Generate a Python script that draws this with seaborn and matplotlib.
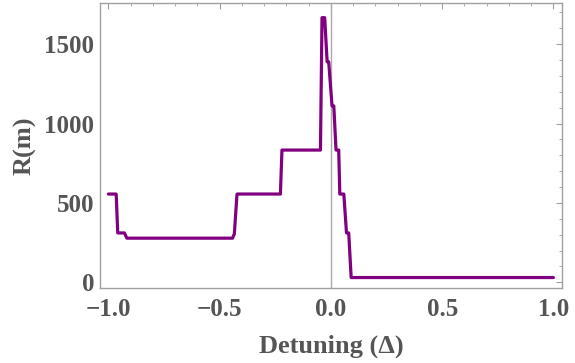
import matplotlib
matplotlib.use("Agg")
import matplotlib.pyplot as plt
from matplotlib.ticker import MultipleLocator, FuncFormatter
import seaborn as sns
import pandas as pd

# Sampled range R(m) versus detuning Δ
detuning = [-1.0, -0.965, -0.958, -0.928, -0.917, -0.442, -0.434, -0.422,
            -0.227, -0.220, -0.047, -0.040, -0.028, -0.017, -0.010, 0.005,
            0.013, 0.023, 0.035, 0.040, 0.058, 0.070, 0.080, 0.091, 1.0]
range_m = [556, 556, 311, 311, 278, 278, 305, 556,
           556, 833, 833, 1667, 1667, 1389, 1389, 1111,
           1111, 833, 833, 556, 556, 311, 311, 30, 30]

x_ticks = [-1.0, -0.5, 0.0, 0.5, 1.0]
y_ticks = [0, 500, 1000, 1500]

df = pd.DataFrame({"Detuning": detuning, "R": range_m})

sns.set_style("white")
plt.rcParams["font.family"] = ["Liberation Serif", "DejaVu Serif"]
plt.rcParams["font.weight"] = "bold"

text_col = "#555555"
frame_col = "#a0a0a0"

fig = plt.figure(figsize=(5.75, 3.63), dpi=100)
ax = fig.add_axes([0.174, 0.207, 0.803, 0.785])

ax.axvline(0, color="#aaaaaa", lw=1.0, zorder=1)
sns.lineplot(data=df, x="Detuning", y="R", sort=False, estimator=None,
             color="#800080", lw=2.3, ax=ax, zorder=3)

ax.set_xlim(-1.0375, 1.0375)
ax.set_ylim(-35, 1760)
ax.set_xticks(x_ticks)
ax.set_yticks(y_ticks)
ax.xaxis.set_minor_locator(MultipleLocator(0.1))
ax.yaxis.set_minor_locator(MultipleLocator(100))
ax.xaxis.set_major_formatter(FuncFormatter(lambda v, p: f"{v:.1f}".replace("-", "\u2212")))

for s in ax.spines.values():
    s.set_color(frame_col)
    s.set_linewidth(1.0)

ax.tick_params(which="both", direction="in", top=True, right=True,
               color=frame_col, labelcolor=text_col, labelsize=18)
ax.tick_params(which="major", length=4, width=0.8, pad=4)
ax.tick_params(axis="x", which="major", pad=7)
ax.tick_params(which="minor", length=2.5, width=0.6)

ax.set_xlabel("Detuning (\u0394)", fontsize=19, color=text_col, fontweight="bold", labelpad=10)
ax.set_ylabel("R(m)", fontsize=19, color=text_col, fontweight="bold", labelpad=6)

fig.savefig("out.png", dpi=100)
